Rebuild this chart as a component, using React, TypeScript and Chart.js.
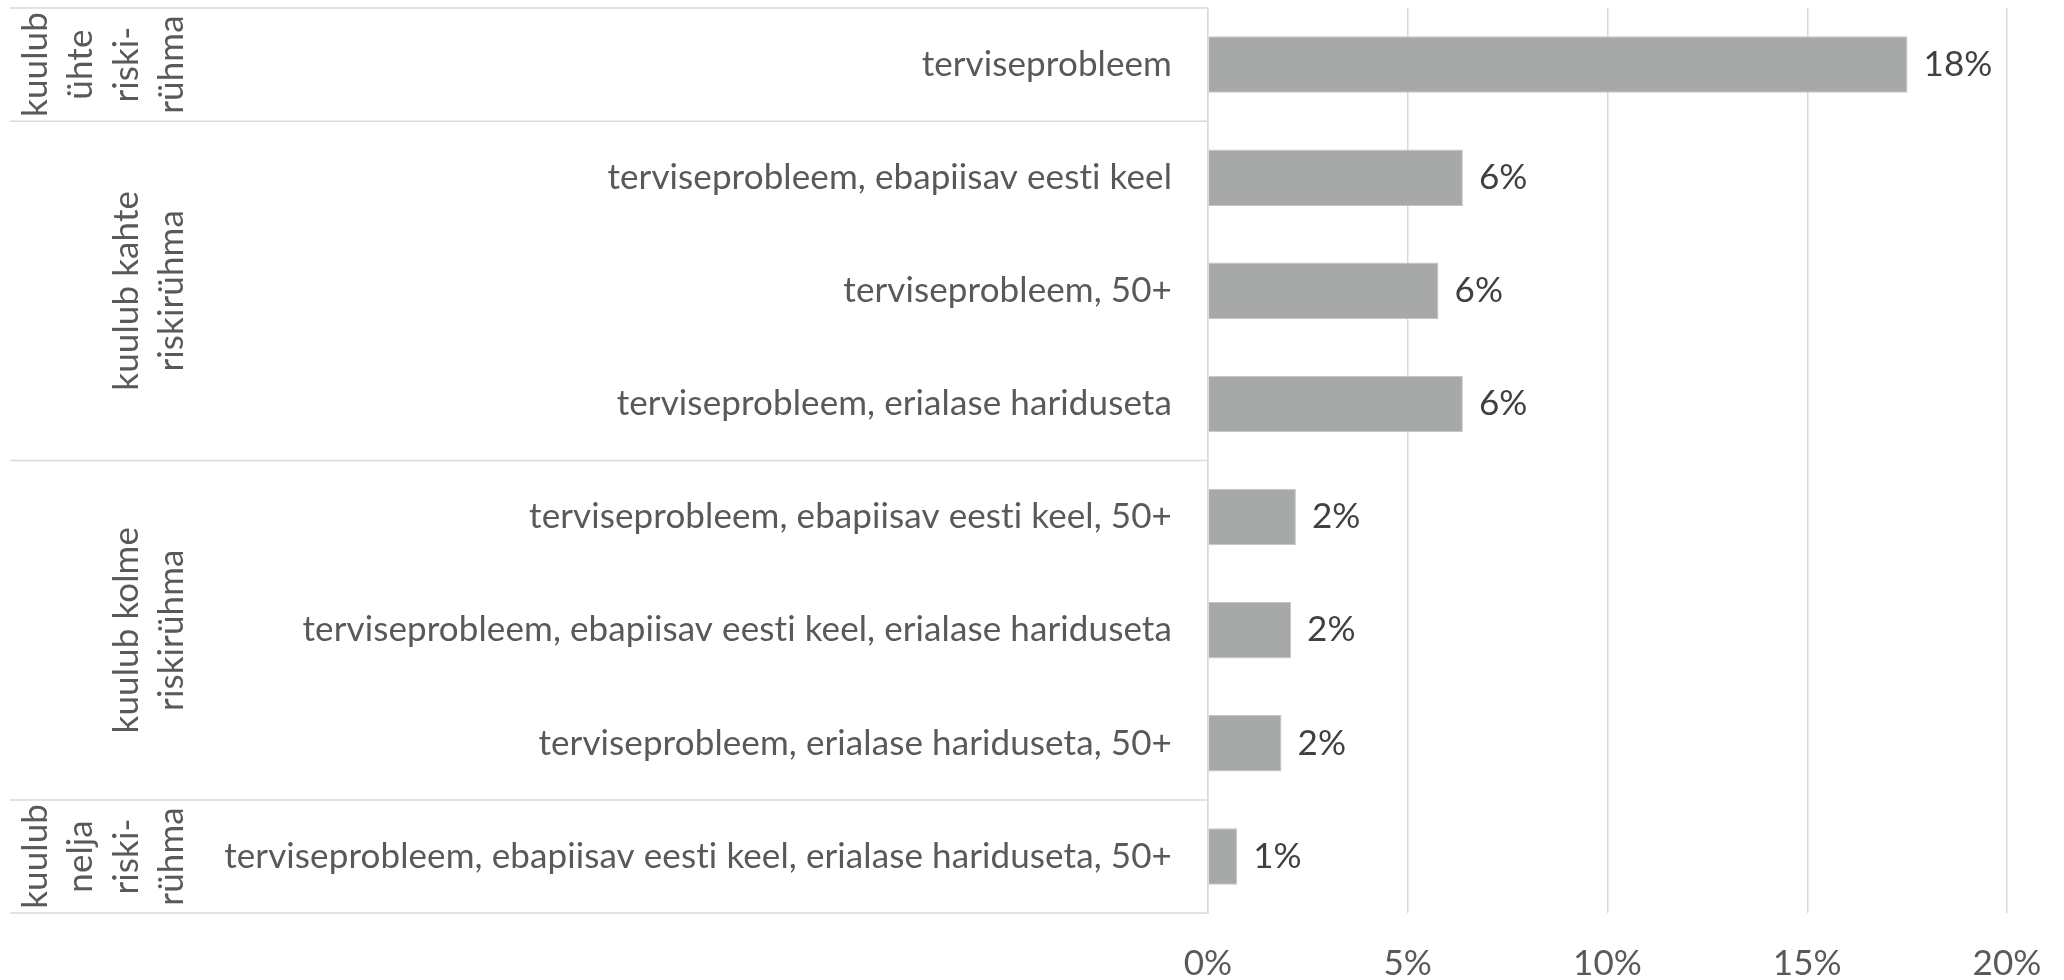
import React, { useEffect, useRef } from "react";
import { Chart, registerables } from "chart.js";

Chart.register(...registerables);

const categories: string[] = [
  "terviseprobleem",
  "terviseprobleem, ebapiisav eesti keel",
  "terviseprobleem, 50+",
  "terviseprobleem, erialase hariduseta",
  "terviseprobleem, ebapiisav eesti keel, 50+",
  "terviseprobleem, ebapiisav eesti keel, erialase hariduseta",
  "terviseprobleem, erialase hariduseta, 50+",
  "terviseprobleem, ebapiisav eesti keel, erialase hariduseta, 50+",
];

const values: number[] = [17.51, 6.38, 5.77, 6.38, 2.2, 2.08, 1.84, 0.73];

const groupLabels: string[][] = [
  ["kuulub", "ühte", "riski-", "rühma"],
  ["kuulub kahte", "riskirühma"],
  ["kuulub kolme", "riskirühma"],
  ["kuulub", "nelja", "riski-", "rühma"],
];
const groupSizes: number[] = [1, 3, 3, 1];

const xTicks: number[] = [0, 5, 10, 15, 20];

const FONT = "Lato";
const FSIZE = 35;
const TEXT = "#595959";
const LINE = "#d9d9d9";

const noLigatures = {
  id: "noLigatures",
  beforeDraw(chart: any) {
    chart.ctx.letterSpacing = "0.1px";
  },
};

const groupPlugin = {
  id: "groups",
  afterDraw(chart: any) {
    const { ctx, chartArea, scales } = chart;
    const ys = scales.y;
    const n = categories.length;
    const rowH = (chartArea.bottom - chartArea.top) / n;
    const left = 10;
    const right = chartArea.left;
    ctx.save();
    ctx.letterSpacing = "0.1px";
    ctx.strokeStyle = LINE;
    ctx.lineWidth = 1.5;
    let idx = 0;
    const bounds: number[] = [chartArea.top];
    for (const s of groupSizes) {
      idx += s;
      bounds.push(ys.getPixelForValue(idx - 1) + rowH / 2);
    }
    for (const b of bounds) {
      ctx.beginPath();
      ctx.moveTo(left, b);
      ctx.lineTo(right, b);
      ctx.stroke();
    }
    // group labels
    ctx.fillStyle = TEXT;
    ctx.font = `${FSIZE}px ${FONT}`;
    ctx.textAlign = "center";
    ctx.textBaseline = "middle";
    const lastX = 172;
    const lh = 45.5;
    groupLabels.forEach((lines, g) => {
      const cy = (bounds[g] + bounds[g + 1]) / 2;
      lines.forEach((line, i) => {
        const x = lastX - (lines.length - 1 - i) * lh;
        ctx.save();
        ctx.translate(x, cy);
        ctx.rotate(-Math.PI / 2);
        ctx.fillText(line, 0, 0);
        ctx.restore();
      });
    });
    // data labels
    const meta = chart.getDatasetMeta(0);
    ctx.fillStyle = "#404040";
    ctx.textAlign = "left";
    meta.data.forEach((bar: any, i: number) => {
      ctx.fillText(Math.round(values[i]) + "%", bar.x + 16, bar.y);
    });
    ctx.restore();
  },
};

export default function App() {
  const ref = useRef<HTMLCanvasElement | null>(null);
  useEffect(() => {
    if (!ref.current) return;
    const chart = new Chart(ref.current, {
      type: "bar",
      data: {
        labels: categories,
        datasets: [
          {
            data: values,
            backgroundColor: "#a6a9a7",
            borderColor: "#c4c6c5",
            borderWidth: 1,
            barPercentage: 0.5,
            categoryPercentage: 1,
          },
        ],
      },
      options: {
        indexAxis: "y",
        animation: false,
        responsive: false,
        maintainAspectRatio: false,
        layout: { padding: { top: 8, right: 57, left: 0, bottom: 0 } },
        plugins: { legend: { display: false }, tooltip: { enabled: false } },
        scales: {
          x: {
            min: 0,
            max: 20,
            afterBuildTicks: (scale: any) => {
              scale.ticks = xTicks.map((v) => ({ value: v }));
            },
            afterFit: (scale: any) => {
              scale.height = 67;
              scale.paddingLeft = 0;
              scale.paddingRight = 0;
            },
            grid: { color: LINE, lineWidth: 1.5, drawTicks: false },
            border: { display: false },
            ticks: {
              padding: 30,
              color: TEXT,
              font: { family: FONT, size: FSIZE },
              callback: (v: any) => v + "%",
            },
          },
          y: {
            afterFit: (scale: any) => {
              scale.width = 1208;
              scale.paddingTop = 0;
              scale.paddingBottom = 0;
            },
            grid: { display: false, drawTicks: false },
            border: { display: true, color: LINE, width: 1.5 },
            ticks: {
              padding: 36,
              color: TEXT,
              font: { family: FONT, size: FSIZE },
            },
          },
        },
      },
      plugins: [noLigatures, groupPlugin],
    });
    return () => chart.destroy();
  }, []);
  return (
    <div style={{ position: "absolute", left: 0, top: 0, width: 2064, height: 980 }}>
      <canvas ref={ref} width={2064} height={980} style={{ width: 2064, height: 980 }} />
    </div>
  );
}
